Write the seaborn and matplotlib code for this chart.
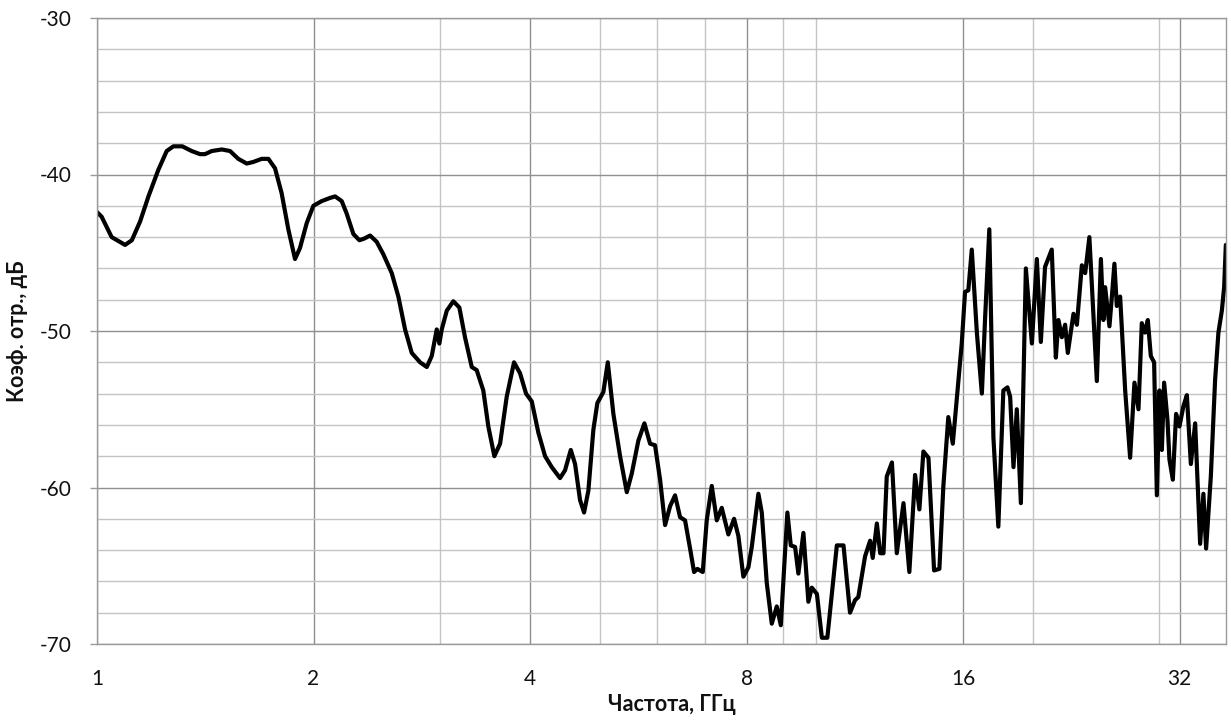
import numpy as np
import pandas as pd
import matplotlib
matplotlib.use("Agg")
import matplotlib.pyplot as plt
import seaborn as sns
from matplotlib.ticker import FixedLocator, NullFormatter, FixedFormatter

# ---- data (frequency in GHz, reflection coefficient in dB) ----
freq_seg1 = [1.000, 1.015, 1.048, 1.094, 1.118, 1.148, 1.179, 1.217, 1.250, 1.277,
             1.314, 1.354, 1.391, 1.413, 1.444, 1.491, 1.531, 1.572, 1.615, 1.649,
             1.694, 1.731, 1.768, 1.806, 1.845, 1.885, 1.915, 1.957, 1.999]
db_seg1 = [-42.4, -42.7, -44.0, -44.5, -44.2, -43.0, -41.4, -39.7, -38.5, -38.2,
           -38.2, -38.5, -38.7, -38.7, -38.5, -38.4, -38.5, -39.0, -39.3, -39.2,
           -39.0, -39.0, -39.6, -41.2, -43.5, -45.4, -44.7, -43.1, -42.0]

freq_seg2 = [2.053, 2.108, 2.143, 2.189, 2.224, 2.272, 2.316, 2.351, 2.397, 2.448,
             2.501, 2.569, 2.624, 2.681, 2.739, 2.813, 2.874, 2.920, 2.967, 2.992,
             3.015, 3.064, 3.129, 3.190, 3.248, 3.319, 3.372, 3.444, 3.500, 3.568,
             3.634, 3.712, 3.800, 3.874, 3.949, 4.022]
db_seg2 = [-41.7, -41.5, -41.4, -41.7, -42.5, -43.8, -44.2, -44.1, -43.9, -44.3,
           -45.1, -46.3, -47.8, -49.9, -51.4, -52.0, -52.3, -51.6, -49.9, -50.8,
           -49.9, -48.7, -48.1, -48.5, -50.4, -52.3, -52.5, -53.8, -56.1, -58.0,
           -57.2, -54.2, -52.0, -52.7, -54.0, -54.5]

freq_seg3 = [4.108, 4.197, 4.288, 4.403, 4.474, 4.557, 4.620, 4.694, 4.755, 4.821,
             4.899, 4.962, 5.058, 5.130, 5.223, 5.336, 5.452, 5.540, 5.658, 5.768,
             5.874, 5.968, 6.065, 6.163, 6.262, 6.363, 6.466, 6.570, 6.676, 6.762,
             6.834, 6.953, 7.042, 7.156, 7.272, 7.389, 7.547, 7.686, 7.793, 7.918,
             8.046]
db_seg3 = [-56.5, -58.0, -58.7, -59.4, -58.9, -57.6, -58.5, -60.8, -61.6, -60.2,
           -56.3, -54.6, -53.9, -52.0, -55.3, -58.0, -60.3, -59.1, -57.0, -55.9,
           -57.2, -57.3, -59.5, -62.4, -61.2, -60.5, -61.9, -62.1, -63.9, -65.4,
           -65.2, -65.4, -62.1, -59.9, -62.1, -61.3, -63.0, -62.0, -63.1, -65.7,
           -65.1]

freq_seg4 = [8.134, 8.308, 8.399, 8.534, 8.672, 8.812, 8.926, 9.116, 9.216, 9.344,
             9.443, 9.596, 9.750, 9.857, 10.02, 10.18, 10.36, 10.68, 10.91, 11.14,
             11.32, 11.44, 11.69, 11.88, 11.98, 12.14, 12.27, 12.40, 12.53, 12.74,
             12.94, 13.22, 13.47, 13.72, 13.91, 14.09, 14.32, 14.58, 14.83, 15.02,
             15.26, 15.48, 15.68, 15.93]
db_seg4 = [-63.8, -60.4, -61.6, -66.1, -68.7, -67.6, -68.8, -61.6, -63.7, -63.8,
           -65.5, -62.9, -67.3, -66.4, -66.8, -69.6, -69.6, -63.7, -63.7, -68.0,
           -67.2, -67.0, -64.4, -63.4, -64.5, -62.3, -64.2, -64.2, -59.3, -58.4,
           -64.2, -61.0, -65.4, -59.2, -61.4, -57.7, -58.1, -65.3, -65.2, -59.9,
           -55.5, -57.2, -54.3, -50.8]

freq_seg5 = [16.10, 16.27, 16.45, 16.72, 16.99, 17.17, 17.40, 17.63, 17.91, 18.20,
             18.44, 18.60, 18.80, 19.00, 19.25, 19.56, 19.94, 20.26, 20.52, 20.80,
             21.25, 21.53, 21.71, 21.95, 22.18, 22.37, 22.78, 23.03, 23.40, 23.65,
             23.97]
db_seg5 = [-47.5, -47.4, -44.8, -50.1, -54.0, -49.1, -43.5, -56.8, -62.5, -53.8,
           -53.6, -54.2, -58.7, -55.0, -61.0, -46.0, -50.8, -45.4, -50.7, -45.9,
           -44.8, -51.7, -49.3, -50.4, -49.6, -51.4, -48.9, -49.6, -45.8, -46.3,
           -44.0]

freq_seg6 = [24.55, 24.87, 25.07, 25.21, 25.56, 25.76, 25.97, 26.17, 26.45, 26.88,
             27.31, 27.69, 28.05, 28.35, 28.65, 28.90, 29.18, 29.49, 29.75, 30.00,
             30.23, 30.45, 30.78, 30.97, 31.31, 31.64, 31.98, 32.39, 32.75, 33.17,
             33.63, 34.17, 34.53, 34.83, 35.36, 35.85, 36.23, 36.63, 36.90, 37.10]
db_seg6 = [-53.2, -45.4, -49.3, -47.2, -49.7, -47.8, -45.7, -48.4, -47.8, -53.8,
           -58.1, -53.3, -55.0, -49.5, -50.1, -49.3, -51.6, -52.0, -60.5, -53.8,
           -57.6, -53.3, -55.7, -58.2, -59.5, -55.3, -56.1, -54.8, -54.1, -58.5,
           -55.9, -63.6, -60.4, -63.9, -59.3, -53.1, -50.1, -48.7, -47.2, -44.5]

x_major_ticks = [1, 2, 4, 8, 16, 32]
x_major_labels = ["1", "2", "4", "8", "16", "32"]
x_minor_grid = [3, 5, 6, 7, 9, 10, 20, 30]
y_major_ticks = [-70, -60, -50, -40, -30]
y_major_labels = ["-70", "-60", "-50", "-40", "-30"]
y_minor_grid = [-68, -66, -64, -62, -58, -56, -54, -52, -48, -46, -44, -42,
                -38, -36, -34, -32]
x_label = "Частота, ГГц"
y_label = "Коэф. отр., дБ"

freq = freq_seg1 + freq_seg2 + freq_seg3 + freq_seg4 + freq_seg5 + freq_seg6
db = db_seg1 + db_seg2 + db_seg3 + db_seg4 + db_seg5 + db_seg6
df = pd.DataFrame({"freq": freq, "db": db})

# ---- style ----
sns.set_theme(style="white")
plt.rcParams["font.family"] = ["Lato", "DejaVu Sans"]
plt.rcParams["axes.unicode_minus"] = False

W, H = 1231, 722
fig = plt.figure(figsize=(W / 100, H / 100), dpi=100)
ax = fig.add_axes([97 / W, 1 - 644 / H, (1226 - 97) / W, (644 - 18) / H])

ax.set_xscale("log", base=2)
ax.set_axisbelow(True)

sns.lineplot(data=df, x="freq", y="db", ax=ax, color="black", linewidth=3.0,
             estimator=None, sort=False, legend=False,
             solid_joinstyle="round", solid_capstyle="round")

ax.set_xlim(1, 37.12)
ax.set_ylim(-70, -30)

ax.xaxis.set_major_locator(FixedLocator(x_major_ticks))
ax.xaxis.set_major_formatter(FixedFormatter(x_major_labels))
ax.xaxis.set_minor_locator(FixedLocator(x_minor_grid))
ax.xaxis.set_minor_formatter(NullFormatter())
ax.yaxis.set_major_locator(FixedLocator(y_major_ticks))
ax.yaxis.set_major_formatter(FixedFormatter(y_major_labels))
ax.yaxis.set_minor_locator(FixedLocator(y_minor_grid))

ax.grid(which="major", color="#8f8f8f", linewidth=1.0)
ax.grid(which="minor", color="#c4c4c4", linewidth=1.0)

for side, sp in ax.spines.items():
    sp.set_visible(True)
    sp.set_color("#9a9a9a")
    sp.set_linewidth(1.0)

ax.tick_params(axis="x", which="both", length=0, pad=18, labelsize=15,
               labelcolor="#111111")
ax.tick_params(axis="y", which="major", length=5, width=1, color="#9a9a9a",
               direction="out", pad=13, labelsize=15, labelcolor="#111111",
               left=True)
ax.tick_params(axis="y", which="minor", length=0)

ax.set_xlabel(x_label, fontsize=15.5, fontweight="bold", color="#111111")
ax.set_ylabel(y_label, fontsize=15.5, fontweight="bold", color="#111111")
ax.xaxis.set_label_coords((672 - 97) / (1226 - 97), -(694 - 644) / (644 - 18))
ax.yaxis.set_label_coords(-(97 - 28) / (1226 - 97), 0.5)

fig.savefig("out.png", dpi=100, facecolor="white")
